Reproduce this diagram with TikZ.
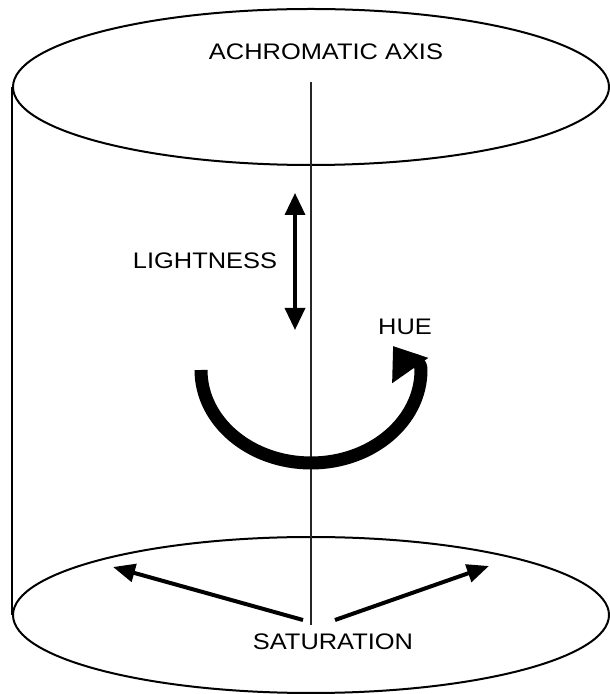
\documentclass[tikz,border=0pt]{standalone}
\usepackage{fontspec}
\setmainfont{Liberation Sans}[FakeStretch=1.13]
\usetikzlibrary{arrows.meta,shapes.geometric}

\begin{document}
\begin{tikzpicture}[
    x=1pt, y=1pt,
    rim/.style={draw, ellipse, line width=2pt, minimum width=596pt,
        minimum height=156pt, inner sep=0pt},
    side/.style={line width=2pt},
    axisln/.style={line width=1.1pt, draw=black!85},
    lght/.style={{Triangle[length=22pt,width=20pt]}-{Triangle[length=22pt,width=20pt]},
        line width=3.5pt},
    satarr/.style={-{Triangle[length=22pt,width=18pt]}, line width=4pt},
    huearr/.style={-{Triangle[length=30pt,width=42pt]}, line width=13pt, line join=round},
    lbl/.style={font=\fontsize{22.5}{24}\selectfont, inner sep=0pt}
]
\useasboundingbox (0,0) rectangle (610,694);
% Cylinder
\node[rim] (top) at (311,607) {};
\node[rim] (bot) at (311,79) {};
\draw[side] (top.west) -- (bot.west);
% Axis
\node[lbl] (ach) at (326,642) {ACHROMATIC AXIS};
\coordinate (axtop) at (311,612);
\coordinate (axbot) at (311,69);
\draw[axisln] (axtop) -- (axbot);
% Lightness
\node[lbl] (light) at (205,433) {LIGHTNESS};
\coordinate (lt) at (295,501);
\coordinate (lb) at (295,364);
\draw[lght] (lt) -- (lb);
% Hue
\node[lbl] (hue) at (405,367) {HUE};
\coordinate (hs) at (201,324);
\coordinate (he) at (393,348);
\draw[huearr] (hs) arc[start angle=180, end angle=360, x radius=110, y radius=93]
    to[out=90, in=-55] (he);
% Saturation
\node[lbl] (sat) at (333,52) {SATURATION};
\coordinate (sl) at (303,74);
\coordinate (sr) at (335,74);
\coordinate (slt) at (113,127);
\coordinate (srt) at (489,128);
\draw[satarr] (sl) -- (slt);
\draw[satarr] (sr) -- (srt);
\end{tikzpicture}
\end{document}
